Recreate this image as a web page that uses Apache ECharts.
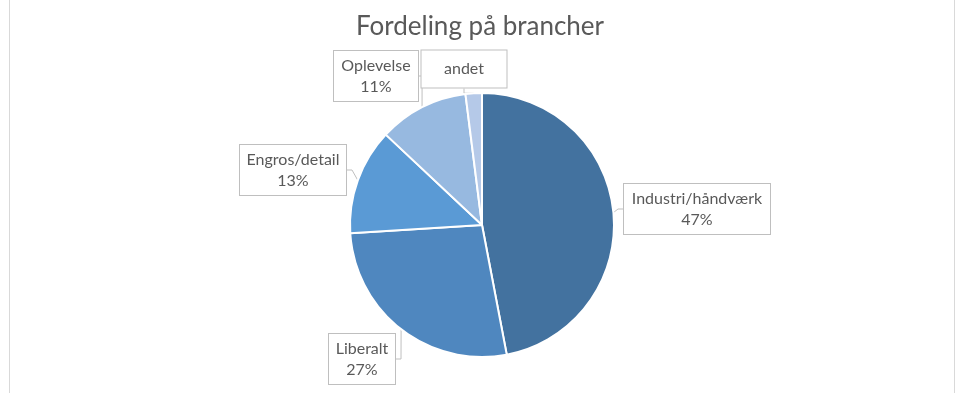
<!DOCTYPE html>
<html>
<head>
<meta charset="utf-8">
<script src="https://cdn.jsdelivr.net/npm/echarts@6/dist/echarts.min.js"></script>
<style>html,body{margin:0;padding:0;background:#fff}#c{width:960px;height:393px}</style>
</head>
<body>
<div id="c"></div>
<script>
const categories = ['Industri/håndværk', 'Liberalt', 'Engros/detail', 'Oplevelse', 'andet'];
const values = [47, 27, 13, 11, 2];
const colors = ['#43729F', '#4F87BF', '#5A9AD5', '#97B9E0', '#B5C9E8'];
const showPct = [true, true, true, true, false];
const titleText = 'Fordeling på brancher';

// label box centres (layout)
const labelPos = [
  {x: 697, y: 209},
  {x: 362, y: 359},
  {x: 293, y: 170},
  {x: 376, y: 76},
  {x: 464, y: 69}
];
const labelW = [134, 54, 94, 72, 73];

const FONT = 'Lato';
const chart = echarts.init(document.getElementById('c'));
chart.setOption({
  animation: false,
  title: {
    text: titleText, left: 'center', top: 9,
    textStyle: {fontFamily: FONT, fontSize: 26, fontWeight: 'normal', color: '#595959'}
  },
  graphic: [
    {type: 'line', shape: {x1: 9.5, y1: 0, x2: 9.5, y2: 393}, style: {stroke: '#d9d9d9', lineWidth: 1}},
    {type: 'line', shape: {x1: 954.5, y1: 0, x2: 954.5, y2: 393}, style: {stroke: '#d9d9d9', lineWidth: 1}}
  ],
  series: [{
    type: 'pie',
    center: [482, 225],
    radius: [0, 132],
    startAngle: 90,
    clockwise: true,
    itemStyle: {borderColor: '#fff', borderWidth: 2},
    label: {
      show: true,
      fontFamily: FONT, fontSize: 16, color: '#595959', lineHeight: 21,
      align: 'center', overflow: 'none',
      backgroundColor: '#fff', borderColor: '#bfbfbf', borderWidth: 1,
      padding: [6, 6, 2, 6]
    },
    labelLine: {show: true, length: 5, length2: 5, lineStyle: {color: '#bfbfbf', width: 1}},
    labelLayout: function (p) {
      const pos = labelPos[p.dataIndex];
      return {x: pos.x, y: pos.y, align: 'center', verticalAlign: 'middle'};
    },
    data: categories.map((c, i) => ({
      name: c, value: values[i],
      itemStyle: {color: colors[i]},
      label: showPct[i]
        ? {width: labelW[i], formatter: c + '\n' + values[i] + '%'}
        : {width: labelW[i], formatter: c, padding: [10, 6, 6, 6]}
    }))
  }]
});
</script>
</body>
</html>
